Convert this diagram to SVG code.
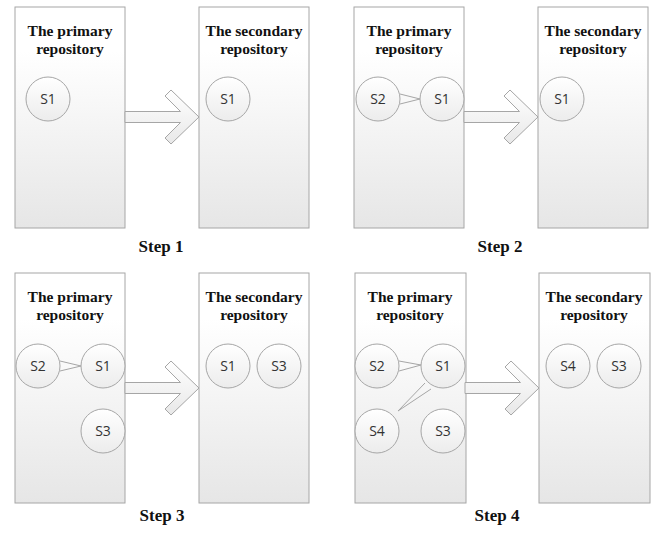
<svg xmlns="http://www.w3.org/2000/svg" width="654" height="533" viewBox="0 0 654 533">
<defs>
<linearGradient id="gRect" x1="0" y1="0" x2="0" y2="1">
<stop offset="0" stop-color="#ffffff"/>
<stop offset="0.2" stop-color="#ffffff"/>
<stop offset="1" stop-color="#e6e6e6"/>
</linearGradient>
<linearGradient id="gCirc" x1="0" y1="0" x2="0" y2="1">
<stop offset="0" stop-color="#ffffff"/>
<stop offset="1" stop-color="#ececec"/>
</linearGradient>
<linearGradient id="gArrow" x1="0" y1="0" x2="0" y2="1">
<stop offset="0" stop-color="#ffffff"/>
<stop offset="1" stop-color="#e8e8e8"/>
</linearGradient>
<path id="bigArrow" d="M-74,-5.5 L-18.5,-5.5 L-34,-21 L-28,-27 L0,0 L-28,27 L-34,21 L-18.5,5.5 L-74,5.5 Z"/>
</defs>
<style>
.repo{fill:url(#gRect);stroke:#a6a6a6;stroke-width:1}
.circ{fill:url(#gCirc);stroke:#a6a6a6;stroke-width:1}
.ttl{font-family:"Liberation Serif","Times New Roman",serif;font-weight:bold;font-size:15.5px;fill:#111;text-anchor:middle}
.step{font-family:"Liberation Serif","Times New Roman",serif;font-weight:bold;font-size:17px;fill:#111;text-anchor:middle}
.lbl{font-family:"Open Sans","Noto Sans",sans-serif;font-size:14px;fill:#333;text-anchor:middle}
.arr{fill:url(#gArrow);stroke:#a6a6a6;stroke-width:1;stroke-linejoin:miter}
.wedge{fill:none;stroke:#a6a6a6;stroke-width:1}
</style>
<rect width="654" height="533" fill="#ffffff"/>

<!-- Step 1 -->
<g id="step1-primary">
<rect class="repo" x="15" y="7" width="110" height="221"/>
<text class="ttl" x="70" y="36">The primary</text>
<text class="ttl" x="70" y="54">repository</text>
</g>
<g id="step1-secondary">
<rect class="repo" x="199" y="7" width="110" height="221"/>
<text class="ttl" x="254" y="36">The secondary</text>
<text class="ttl" x="254" y="54">repository</text>
</g>
<g id="s1-p-S1"><circle class="circ" cx="48" cy="99" r="22"/><text class="lbl" x="48" y="104">S1</text></g>
<g id="s1-s-S1"><circle class="circ" cx="228" cy="99" r="22"/><text class="lbl" x="228" y="104">S1</text></g>
<text class="step" x="161" y="252">Step 1</text>

<!-- Step 2 -->
<g id="step2-primary">
<rect class="repo" x="354" y="7" width="110" height="221"/>
<text class="ttl" x="409" y="36">The primary</text>
<text class="ttl" x="409" y="54">repository</text>
</g>
<g id="step2-secondary">
<rect class="repo" x="538" y="7" width="110" height="221"/>
<text class="ttl" x="593" y="36">The secondary</text>
<text class="ttl" x="593" y="54">repository</text>
</g>
<g id="s2-p-S2"><circle class="circ" cx="378" cy="99" r="22"/><text class="lbl" x="378" y="104">S2</text></g>
<g id="s2-p-S1"><circle class="circ" cx="442" cy="99" r="22"/><text class="lbl" x="442" y="104">S1</text></g>
<g id="s2-s-S1"><circle class="circ" cx="562" cy="99" r="22"/><text class="lbl" x="562" y="104">S1</text></g>
<text class="step" x="500" y="252">Step 2</text>

<!-- Step 3 -->
<g id="step3-primary">
<rect class="repo" x="15" y="273" width="110" height="230"/>
<text class="ttl" x="70" y="302">The primary</text>
<text class="ttl" x="70" y="320">repository</text>
</g>
<g id="step3-secondary">
<rect class="repo" x="199" y="273" width="110" height="230"/>
<text class="ttl" x="254" y="302">The secondary</text>
<text class="ttl" x="254" y="320">repository</text>
</g>
<g id="s3-p-S2"><circle class="circ" cx="38" cy="366" r="22"/><text class="lbl" x="38" y="371">S2</text></g>
<g id="s3-p-S1"><circle class="circ" cx="103" cy="366" r="22"/><text class="lbl" x="103" y="371">S1</text></g>
<g id="s3-p-S3"><circle class="circ" cx="103" cy="431" r="22"/><text class="lbl" x="103" y="436">S3</text></g>
<g id="s3-s-S1"><circle class="circ" cx="228" cy="366" r="22"/><text class="lbl" x="228" y="371">S1</text></g>
<g id="s3-s-S3"><circle class="circ" cx="279" cy="366" r="22"/><text class="lbl" x="279" y="371">S3</text></g>
<text class="step" x="162" y="521">Step 3</text>

<!-- Step 4 -->
<g id="step4-primary">
<rect class="repo" x="355" y="273" width="111" height="230"/>
<text class="ttl" x="410" y="302">The primary</text>
<text class="ttl" x="410" y="320">repository</text>
</g>
<g id="step4-secondary">
<rect class="repo" x="539" y="273" width="111" height="230"/>
<text class="ttl" x="594" y="302">The secondary</text>
<text class="ttl" x="594" y="320">repository</text>
</g>
<g id="s4-p-S2"><circle class="circ" cx="377" cy="366" r="22"/><text class="lbl" x="377" y="371">S2</text></g>
<g id="s4-p-S1"><circle class="circ" cx="443" cy="366" r="22"/><text class="lbl" x="443" y="371">S1</text></g>
<g id="s4-p-S4"><circle class="circ" cx="377" cy="431" r="22"/><text class="lbl" x="377" y="436">S4</text></g>
<g id="s4-p-S3"><circle class="circ" cx="443" cy="431" r="22"/><text class="lbl" x="443" y="436">S3</text></g>
<g id="s4-s-S4"><circle class="circ" cx="568" cy="366" r="22"/><text class="lbl" x="568" y="371">S4</text></g>
<g id="s4-s-S3"><circle class="circ" cx="619" cy="366" r="22"/><text class="lbl" x="619" y="371">S3</text></g>
<text class="step" x="497" y="521">Step 4</text>

<!-- Connectors -->
<g id="connectors">
<use href="#bigArrow" class="arr" transform="translate(199,117)"/>
<use href="#bigArrow" class="arr" transform="translate(538,117)"/>
<use href="#bigArrow" class="arr" transform="translate(199,388)"/>
<use href="#bigArrow" class="arr" transform="translate(539,388)"/>
<polyline class="wedge" points="400,94 420,99 400,104"/>
<polyline class="wedge" points="60,361 81,366 60,371"/>
<polyline class="wedge" points="399,361 421,365 399,371"/>
<polyline class="wedge" points="425,383 398,411 431,389"/>
</g>
</svg>
